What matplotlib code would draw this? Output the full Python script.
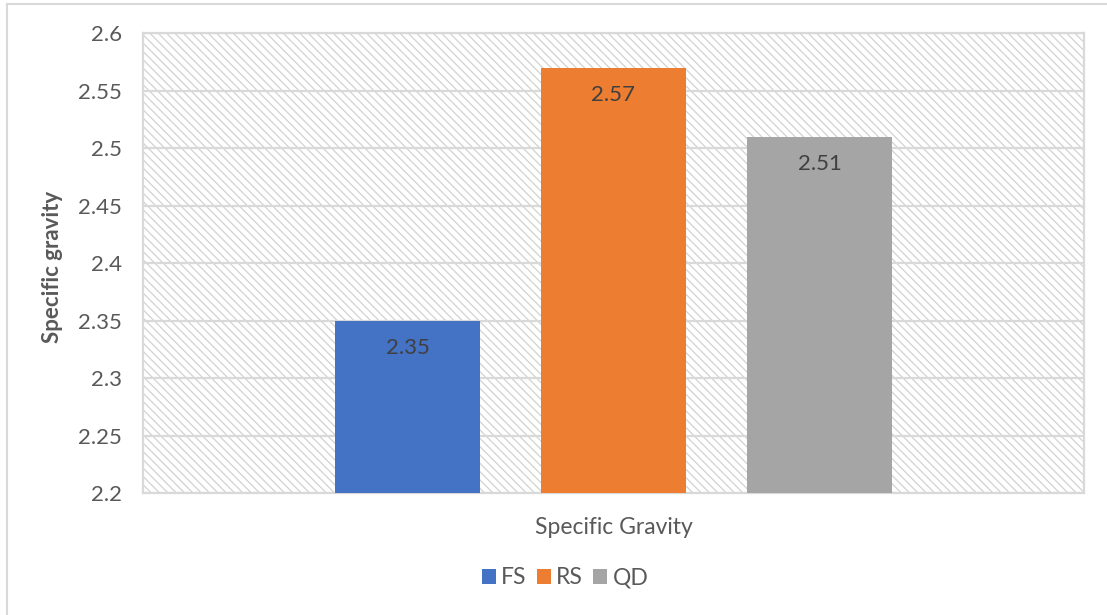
import matplotlib
matplotlib.use("Agg")
import matplotlib.pyplot as plt
from matplotlib.patches import Patch
from matplotlib.lines import Line2D

plt.rcParams['font.family'] = ['Lato', 'DejaVu Sans']
plt.rcParams['hatch.linewidth'] = 0.9

categories = ["FS", "RS", "QD"]
values = [2.35, 2.57, 2.51]
colors = ["#4472C4", "#ED7D31", "#A5A5A5"]
y_ticks = [2.2, 2.25, 2.3, 2.35, 2.4, 2.45, 2.5, 2.55, 2.6]
y_tick_labels = ["2.2", "2.25", "2.3", "2.35", "2.4", "2.45", "2.5", "2.55", "2.6"]
x_label = "Specific Gravity"
y_label = "Specific gravity"

W, H = 1107, 615
fig = plt.figure(figsize=(W / 100, H / 100), dpi=100)
left, right, top, bottom = 143, 1084, 33, 493
ax = fig.add_axes([left / W, 1 - bottom / H, (right - left) / W, (bottom - top) / H])

# hatched background
ax.patch.set_facecolor("white")
ax.patch.set_edgecolor("#d2d2d2")
ax.patch.set_hatch("\\\\\\\\")
ax.patch.set_linewidth(0)

xs = list(range(len(categories)))
bars = ax.bar(xs, values, width=0.704, color=colors, zorder=3, bottom=0)
ax.set_ylim(2.2, 2.6)
ax.set_xlim(1 - 470.5 / 206, 1 + 470.5 / 206)
ax.set_yticks(y_ticks)
ax.set_yticklabels(y_tick_labels)
ax.set_xticks([])
ax.grid(axis="y", color="#d9d9d9", linewidth=1.6, zorder=1)
ax.set_axisbelow(True)
for s in ax.spines.values():
    s.set_color("#d9d9d9")
    s.set_linewidth(1.6)
ax.tick_params(axis="y", length=0, pad=15, labelsize=16, labelcolor="#595959")

for x, v in zip(xs, values):
    ax.annotate(f"{v:.2f}", xy=(x, v), xytext=(0, -19.5), textcoords="offset points",
                ha="center", va="center", fontsize=16, color="#404040", zorder=4)

fig.text(53 / W, 1 - 267 / H, y_label, rotation=90, ha="center", va="center",
         fontsize=16, fontweight="bold", color="#595959")
fig.text(614 / W, 1 - 527 / H, x_label, ha="center", va="center",
         fontsize=16.5, color="#595959")

handles = [Patch(facecolor=c, edgecolor="none") for c in colors]
leg = fig.legend(handles, categories, loc="center", bbox_to_anchor=(565 / W, 1 - 578 / H),
                 ncol=3, frameon=False, fontsize=16.5, handlelength=0.62, handleheight=0.62,
                 handletextpad=0.22, columnspacing=0.45)
for t in leg.get_texts():
    t.set_color("#595959")

# figure border (top and left visible)
fig.add_artist(Line2D([7 / W, 7 / W], [0, 1 - 4 / H], color="#d9d9d9", lw=1.5,
                      transform=fig.transFigure))
fig.add_artist(Line2D([7 / W, 1], [1 - 4 / H, 1 - 4 / H], color="#d9d9d9", lw=1.5,
                      transform=fig.transFigure))

fig.savefig("out.png", dpi=100)
